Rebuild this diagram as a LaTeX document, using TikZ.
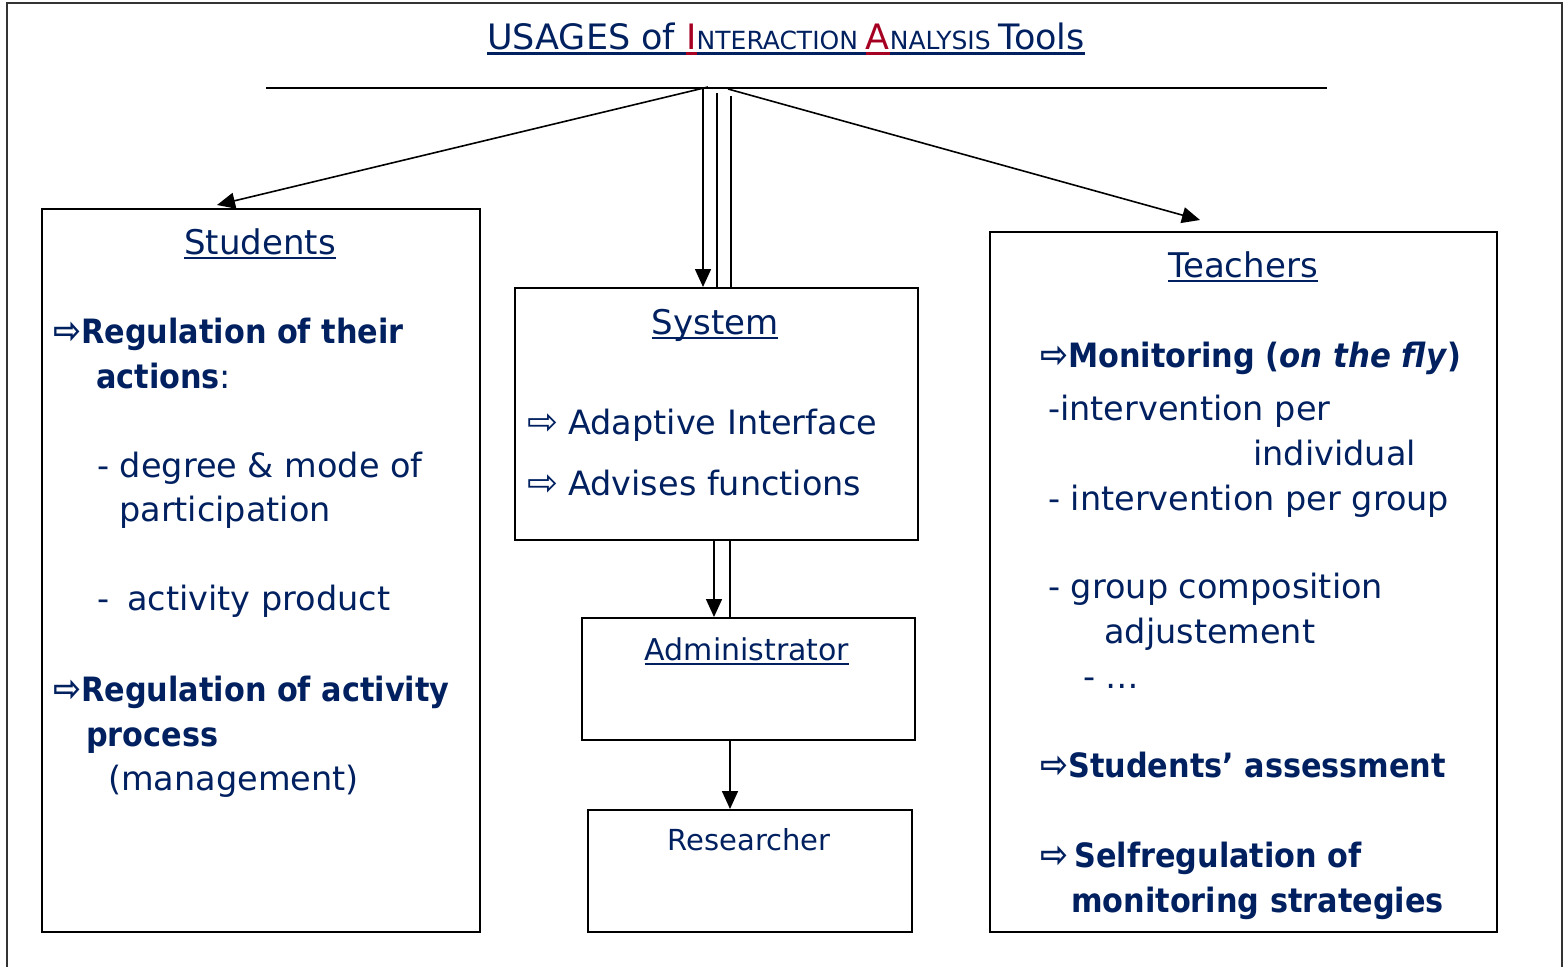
\documentclass[tikz,border=0pt]{standalone}
\usepackage{fontspec}
\setmainfont{DejaVu Sans}[BoldFeatures={FakeStretch=0.905},BoldItalicFeatures={FakeStretch=0.92}]
\usetikzlibrary{arrows.meta}

\definecolor{navy}{RGB}{0,32,96}
\definecolor{darkred}{RGB}{165,0,33}

\newcommand\ulin[3]{\setbox0\hbox{#3}\rlap{\textcolor{#1}{\rule[-5pt]{\wd0}{#2}}}\box0}
\newcommand\sz[1]{\fontsize{#1}{#1}\selectfont}
\newcommand\arr{{\sz{37}⇨}}

\begin{document}
\begin{tikzpicture}[x=1pt,y=-1pt,>={Triangle[length=18pt,width=16pt]},
  box/.style={draw=black,line width=2.2pt,anchor=north west,inner sep=0},
  txt/.style={anchor=base west,inner sep=0,text=navy,font=\sz{33.5}},
  head/.style={anchor=base,inner sep=0,text=navy,font=\sz{34}},
  link/.style={line width=1.6pt}]

\useasboundingbox (0,0) rectangle (1565,966);
\draw [line width=2.5pt,black!80] (7,975) -- (7,3) -- (1562,3) -- (1562,975);

\node [anchor=base,inner sep=0,text=navy,font=\sz{35}] (title) at (786,50)
  {\ulin{navy}{3.5pt}{USAGES of }\ulin{darkred}{3.5pt}{\textcolor{darkred}{I}}\ulin{navy}{3.5pt}{\sz{25}NTERACTION }\ulin{darkred}{3.5pt}{\textcolor{darkred}{A}}\ulin{navy}{3.5pt}{\sz{25}NALYSIS }\ulin{navy}{3.5pt}{Tools}};

\coordinate (barl) at (266,88);
\coordinate (barr) at (1327,88);
\draw [link] (barl) -- (barr);

\node [box,minimum width=438,minimum height=723] (stu) at (41,208) {};
\node [box,minimum width=403,minimum height=252] (sys) at (514,287) {};
\node [box,minimum width=333,minimum height=122] (adm) at (581,617) {};
\node [box,minimum width=324,minimum height=122] (res) at (587,809) {};
\node [box,minimum width=507,minimum height=700] (tea) at (989,231) {};

\coordinate (hubl) at (708,87);
\coordinate (hubr) at (728,89);
\coordinate (stutip) at (217,205);
\coordinate (teatip) at (1200,220);

\draw [link,->] (hubl) -- (stutip);
\draw [link,->] (hubr) -- (teatip);
\draw [link,->] (703,89) -- (sys.north -| 703,0);
\draw [link] (717,93) -- (sys.north -| 717,0);
\draw [link] (731,96) -- (sys.north -| 731,0);
\draw [link,->] (sys.south -| 714,0) -- (adm.north -| 714,0);
\draw [link] (sys.south -| 730,0) -- (adm.north -| 730,0);
\draw [link,->] (adm.south -| 730,0) -- (res.north -| 730,0);

% students
\node [head] (stuh) at (260,254) {\ulin{navy}{2.5pt}{Students}};
\node [txt] (s1) at (53,343) {\bfseries \arr Regulation of their};
\node [txt] (s2) at (96,388) {\bfseries actions\mdseries:};
\node [txt] (s3) at (97,477) {- degree \& mode of};
\node [txt] (s4) at (119,521) {participation};
\node [txt] (s5) at (97,610) {-\hspace{18pt}activity product};
\node [txt] (s6) at (53,701) {\bfseries \arr Regulation of activity};
\node [txt] (s7) at (86,746) {\bfseries process};
\node [txt] (s8) at (108,790) {(management)};

% system
\node [head] (sysh) at (715,334) {\ulin{navy}{2.5pt}{System}};
\node [txt] (y1) at (527,434) {\arr\hspace{10pt}Adaptive Interface};
\node [txt] (y2) at (527,495) {\arr\hspace{10pt}Advises functions};

\node [head,font=\sz{30}] (admh) at (747,660) {\ulin{navy}{2.5pt}{Administrator}};
\node [head,font=\sz{29}] (resh) at (749,850) {Researcher};

% teachers
\node [head] (teah) at (1243,277) {\ulin{navy}{2.5pt}{Teachers}};
\node [txt] (t1) at (1040,367) {\bfseries \arr Monitoring (\textit{on the fly})};
\node [txt] (t2) at (1048,420) {-intervention per};
\node [txt] (t3) at (1253,465) {individual};
\node [txt] (t4) at (1048,510) {- intervention per group};
\node [txt] (t5) at (1048,598) {- group composition};
\node [txt] (t6) at (1104,643) {adjustement};
\node [txt] (t7) at (1083,688) {- …};
\node [txt] (t8) at (1040,777) {\bfseries \arr Students’ assessment};
\node [txt] (t9) at (1040,867) {\bfseries \arr\hspace{6pt}Selfregulation of};
\node [txt] (t10) at (1071,912) {\bfseries monitoring strategies};

\end{tikzpicture}
\end{document}
